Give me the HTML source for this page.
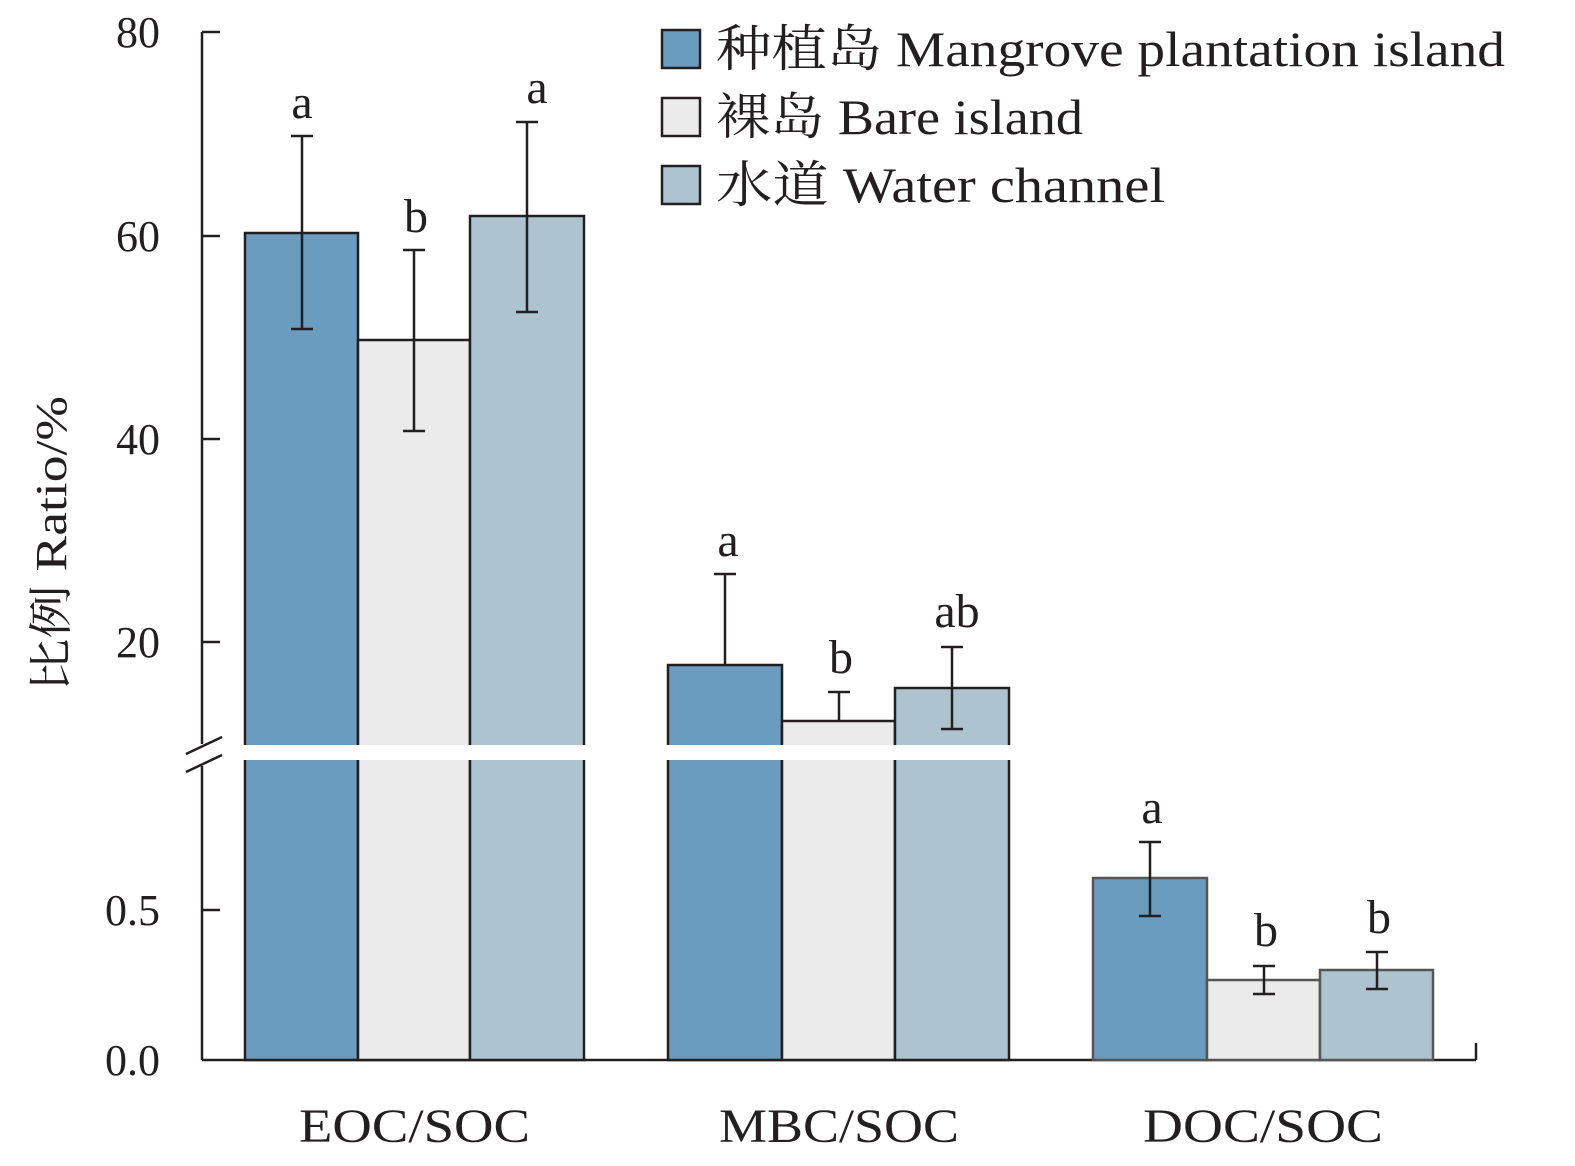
<!DOCTYPE html>
<html><head><meta charset="utf-8"><style>
body{margin:0;background:#fff;overflow:hidden}
text{font-family:"Liberation Serif","Noto Serif CJK SC",serif;fill:#231f20}
</style></head><body>
<svg width="1575" height="1166" viewBox="0 0 1575 1166" xmlns="http://www.w3.org/2000/svg" style="display:block">
<g stroke="#231f20" stroke-width="2.5" fill="none">
<line x1="202" y1="32" x2="202" y2="744"/>
<line x1="202" y1="766" x2="202" y2="1060"/>
<line x1="186" y1="754" x2="222" y2="737"/>
<line x1="186" y1="772" x2="222" y2="755"/>
<line x1="202" y1="1060" x2="1476" y2="1060"/>
<line x1="202" y1="32" x2="220" y2="32"/>
<line x1="202" y1="236" x2="220" y2="236"/>
<line x1="202" y1="439" x2="220" y2="439"/>
<line x1="202" y1="642" x2="220" y2="642"/>
<line x1="202" y1="910" x2="220" y2="910"/>
<line x1="414" y1="1043" x2="414" y2="1060"/>
<line x1="839" y1="1043" x2="839" y2="1060"/>
<line x1="1264" y1="1043" x2="1264" y2="1060"/>
<line x1="1476" y1="1043" x2="1476" y2="1060"/>
</g>
<g stroke="#231f20" stroke-width="2.5">
<rect x="245" y="233" width="113" height="827" fill="#6a9cbf"/>
<rect x="358" y="340" width="112" height="720" fill="#ebebeb"/>
<rect x="470" y="216" width="114" height="844" fill="#adc3d0"/>
<rect x="668" y="665" width="114" height="395" fill="#6a9cbf"/>
<rect x="782" y="721" width="113" height="339" fill="#ebebeb"/>
<rect x="895" y="688" width="114" height="372" fill="#adc3d0"/>
</g>
<g stroke="#555" stroke-width="2.5">
<rect x="1093" y="878" width="114" height="182" fill="#6a9cbf"/>
<rect x="1207" y="980" width="113" height="80" fill="#ebebeb"/>
<rect x="1320" y="970" width="113" height="90" fill="#adc3d0"/>
</g>
<rect x="235" y="745" width="785" height="15" fill="#fff"/>
<g stroke="#231f20" stroke-width="2.5">
<path d="M302 136V329M291 136H313M291 329H313"/>
<path d="M414 250V431M403 250H425M403 431H425"/>
<path d="M527 122V312M516 122H538M516 312H538"/>
<path d="M725 574V665M714 574H736"/>
<path d="M839 692V721M828 692H850"/>
<path d="M952 647V729M941 647H963M941 729H963"/>
<path d="M1150 842V916M1139 842H1161M1139 916H1161"/>
<path d="M1264 966V994M1253 966H1275M1253 994H1275"/>
<path d="M1377 952V989M1366 952H1388M1366 989H1388"/>
</g>
<g font-size="48" text-anchor="middle">
<text x="302" y="118">a</text><text x="416" y="232">b</text><text x="537" y="103">a</text>
<text x="728" y="556">a</text><text x="841" y="673">b</text><text x="957" y="627">ab</text>
<text x="1152" y="823">a</text><text x="1266" y="946">b</text><text x="1379" y="933">b</text>
</g>
<g font-size="44" text-anchor="end">
<text x="160" y="47">80</text><text x="160" y="251">60</text><text x="160" y="454">40</text><text x="160" y="657">20</text>
<text x="160" y="925">0.5</text><text x="160" y="1075">0.0</text>
</g>
<g font-size="48">
<text x="299" y="1142" textLength="231" lengthAdjust="spacingAndGlyphs">EOC/SOC</text>
<text x="719" y="1142" textLength="240" lengthAdjust="spacingAndGlyphs">MBC/SOC</text>
<text x="1143" y="1142" textLength="240" lengthAdjust="spacingAndGlyphs">DOC/SOC</text>
</g>
<text transform="translate(66,692) rotate(-90)" font-size="44" textLength="296" lengthAdjust="spacingAndGlyphs">比例 Ratio/%</text>
<g stroke="#231f20" stroke-width="2.5">
<rect x="662" y="30" width="38" height="38" fill="#6a9cbf"/>
<rect x="662" y="98" width="38" height="38" fill="#ebebeb"/>
<rect x="662" y="166" width="38" height="38" fill="#adc3d0"/>
</g>
<g font-size="50">
<text x="716" y="66" textLength="789" lengthAdjust="spacingAndGlyphs">种植岛 Mangrove plantation island</text>
<text x="716" y="134" textLength="367" lengthAdjust="spacingAndGlyphs">裸岛 Bare island</text>
<text x="716" y="202" textLength="449" lengthAdjust="spacingAndGlyphs">水道 Water channel</text>
</g>
</svg>
</body></html>
